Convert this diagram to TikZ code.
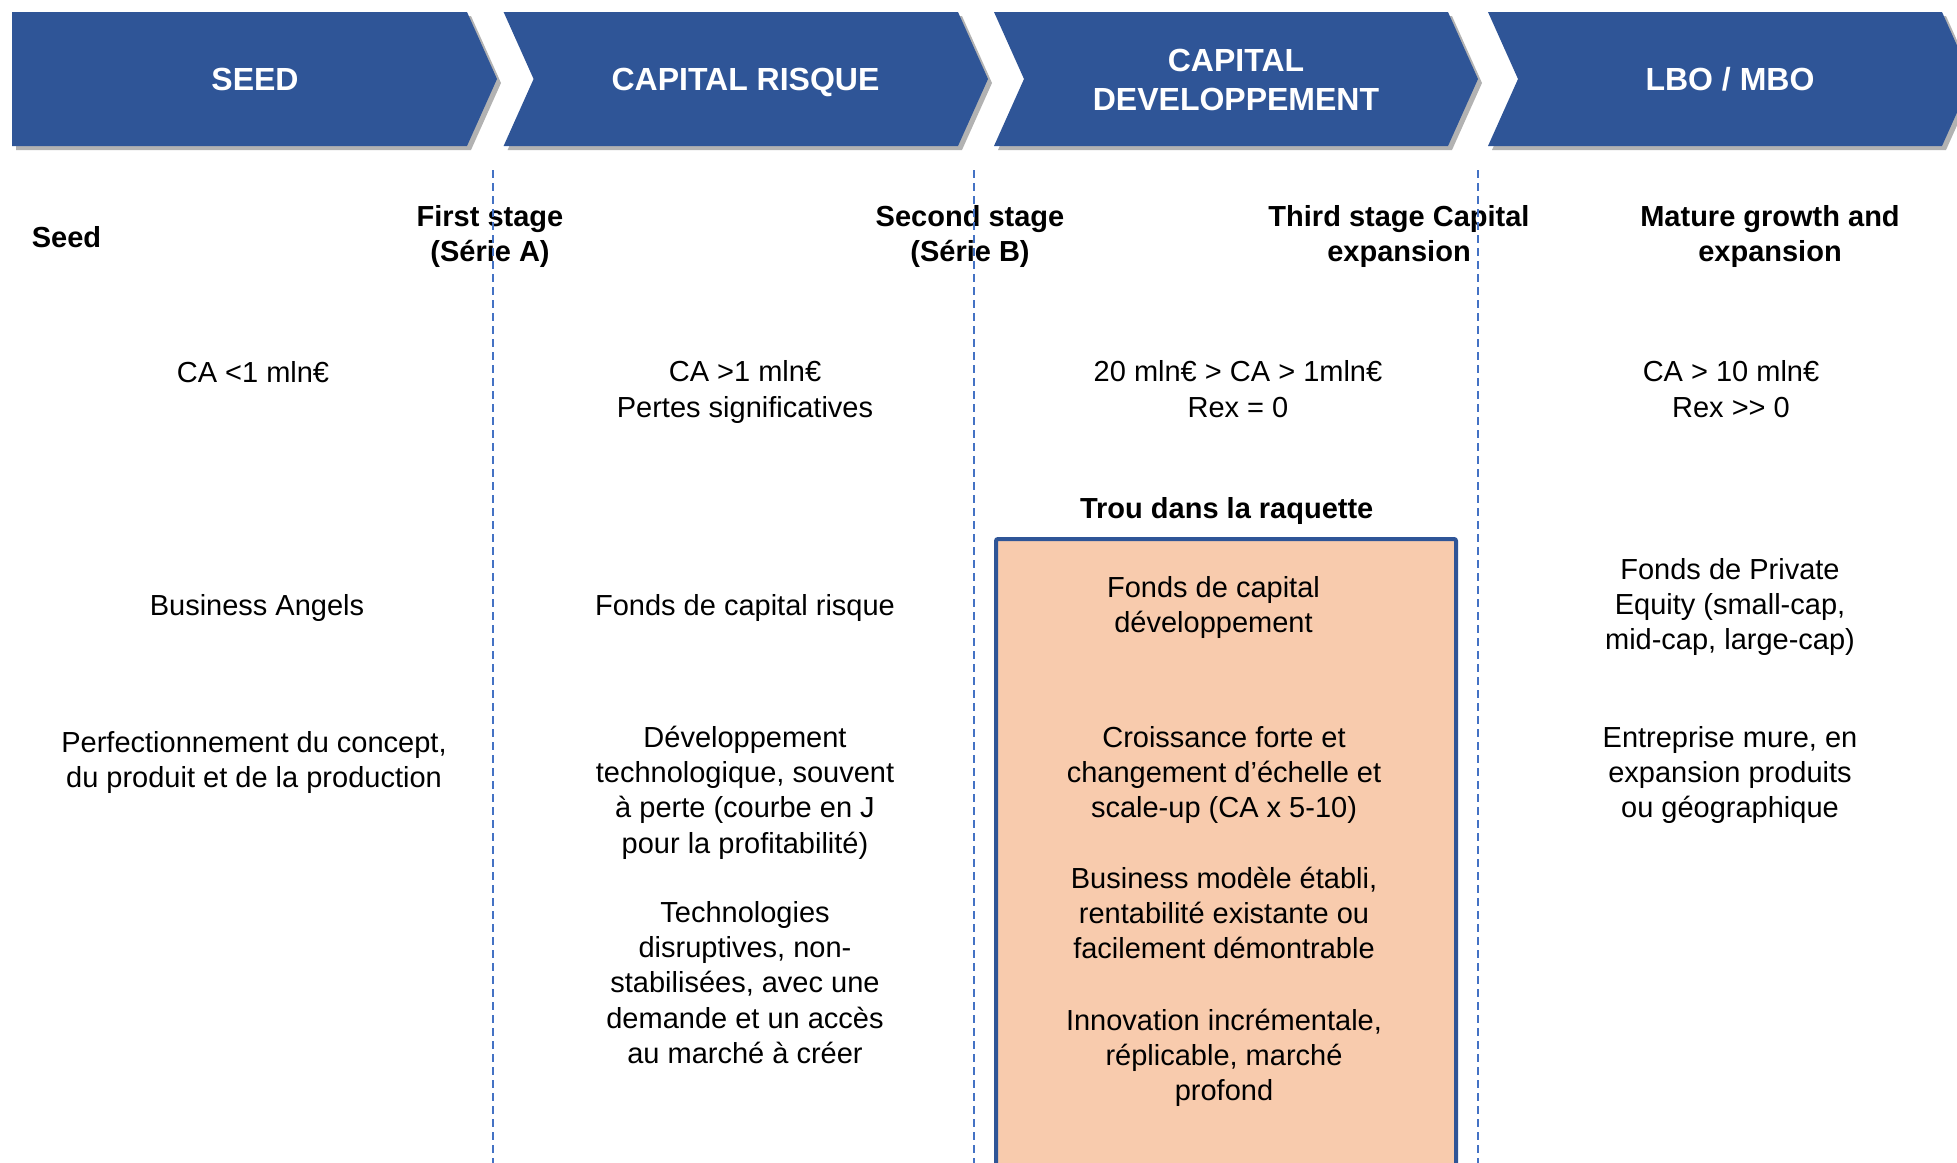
\documentclass[tikz,border=0pt]{standalone}
\usepackage{fontspec}
\setmainfont{Liberation Sans}
\usetikzlibrary{shadows}
\definecolor{chev}{HTML}{2F5597}
\definecolor{dashc}{HTML}{4472C4}
\definecolor{peach}{HTML}{F8CBAD}
\newcommand{\bodyf}{\fontsize{29}{35.3}\selectfont}
\newcommand{\chevf}{\fontsize{32}{38.6}\selectfont\bfseries}
\newcommand{\fs}{\rule{0pt}{24pt}}
\newcommand{\cs}{\rule{0pt}{26pt}}
\begin{document}
\begin{tikzpicture}[x=1pt,y=-1pt,
  chevron/.style={fill=chev, draw=none, drop shadow={shadow xshift=4pt, shadow yshift=-4pt, opacity=0.3, fill=black}},
  chevtxt/.style={font=\chevf, text=white, align=center, inner sep=0pt, anchor=north},
  txt/.style={font=\bodyf, align=center, inner sep=0pt, anchor=north},
  hdr/.style={font=\bodyf\bfseries, align=center, inner sep=0pt, anchor=north},
  sep/.style={draw=dashc, line width=2pt, dash pattern=on 8pt off 5pt},
  gapbox/.style={fill=peach, draw=chev, line width=4pt, rounded corners=2pt}]
\useasboundingbox (0,0) rectangle (1957,1162);
\clip (0,0) rectangle (1957,1162);

% chevrons
\path[chevron] (12,12) -- (467,12) -- (497,79) -- (467,146) -- (12,146) -- cycle;
\path[chevron] (503.6,12) -- (958,12) -- (988,79) -- (958,146) -- (503.6,146) -- (533.6,79) -- cycle;
\path[chevron] (994,12) -- (1448,12) -- (1478,79) -- (1448,146) -- (994,146) -- (1024,79) -- cycle;
\path[chevron] (1488,12) -- (1942,12) -- (1972,79) -- (1942,146) -- (1488,146) -- (1518,79) -- cycle;

\node[chevtxt] (c1) at (255,64.7) {\cs SEED};
\node[chevtxt] (c2) at (745.5,64.7) {\cs CAPITAL RISQUE};
\node[chevtxt] (c3) at (1236,45.3) {\cs CAPITAL\\DEVELOPPEMENT};
\node[chevtxt] (c4) at (1730,64.7) {\cs LBO / MBO};

% gap box
\path[gapbox] (996,539) rectangle (1456,1180);

% headers
\node[hdr, anchor=north west] (h0) at (31.6,223.5) {\fs Seed};
\node[hdr] (h1) at (490,202) {\fs First stage\\(Série A)};
\node[hdr] (h2) at (970,202) {\fs Second stage\\(Série B)};
\node[hdr] (h3) at (1399,202) {\fs Third stage Capital\\expansion};
\node[hdr] (h4) at (1770,202) {\fs Mature growth and\\expansion};

% revenue row
\node[txt] (r1) at (253,358) {\fs CA <1 mln€};
\node[txt] (r2) at (745,357) {\fs CA >1 mln€\\[1.2pt]Pertes significatives};
\node[txt] (r3) at (1238,357) {\fs 20 mln€ > CA > 1mln€\\[1.2pt]Rex = 0};
\node[txt] (r4) at (1731,357) {\fs CA > 10 mln€\\[1.2pt]Rex >{}> 0};

\node[hdr] (trou) at (1226.7,494) {\fs Trou dans la raquette};

% investors row
\node[txt] (i1) at (257,591) {\fs Business Angels};
\node[txt] (i2) at (745,591) {\fs Fonds de capital risque};
\node[txt] (i3) at (1213.5,573) {\fs Fonds de capital\\développement};
\node[txt] (i4) at (1730,555) {\fs Fonds de Private\\Equity (small-cap,\\mid-cap, large-cap)};

% description row
\node[txt] (d1) at (254,728) {\fs Perfectionnement du concept,\\du produit et de la production};
\node[txt] (d2) at (745,723) {\fs Développement\\technologique, souvent\\à perte (courbe en J\\pour la profitabilité)};
\node[txt] (d3) at (1224,723) {\fs Croissance forte et\\changement d’échelle et\\scale-up (CA x 5-10)};
\node[txt] (d4) at (1730,723) {\fs Entreprise mure, en\\expansion produits\\ou géographique};

\node[txt] (e2) at (745,898) {\fs Technologies\\disruptives, non-\\stabilisées, avec une\\demande et un accès\\au marché à créer};
\node[txt] (e3) at (1224,864) {\fs Business modèle établi,\\rentabilité existante ou\\facilement démontrable};
\node[txt] (f3) at (1224,1006) {\fs Innovation incrémentale,\\réplicable, marché\\profond};

% separators
\coordinate (s1t) at (492.5,170); \coordinate (s1b) at (492.5,1170);
\coordinate (s2t) at (973.5,170); \coordinate (s2b) at (973.5,1170);
\coordinate (s3t) at (1478,170); \coordinate (s3b) at (1478,1170);
\draw[sep] (s1t) -- (s1b);
\draw[sep] (s2t) -- (s2b);
\draw[sep] (s3t) -- (s3b);
\end{tikzpicture}
\end{document}
